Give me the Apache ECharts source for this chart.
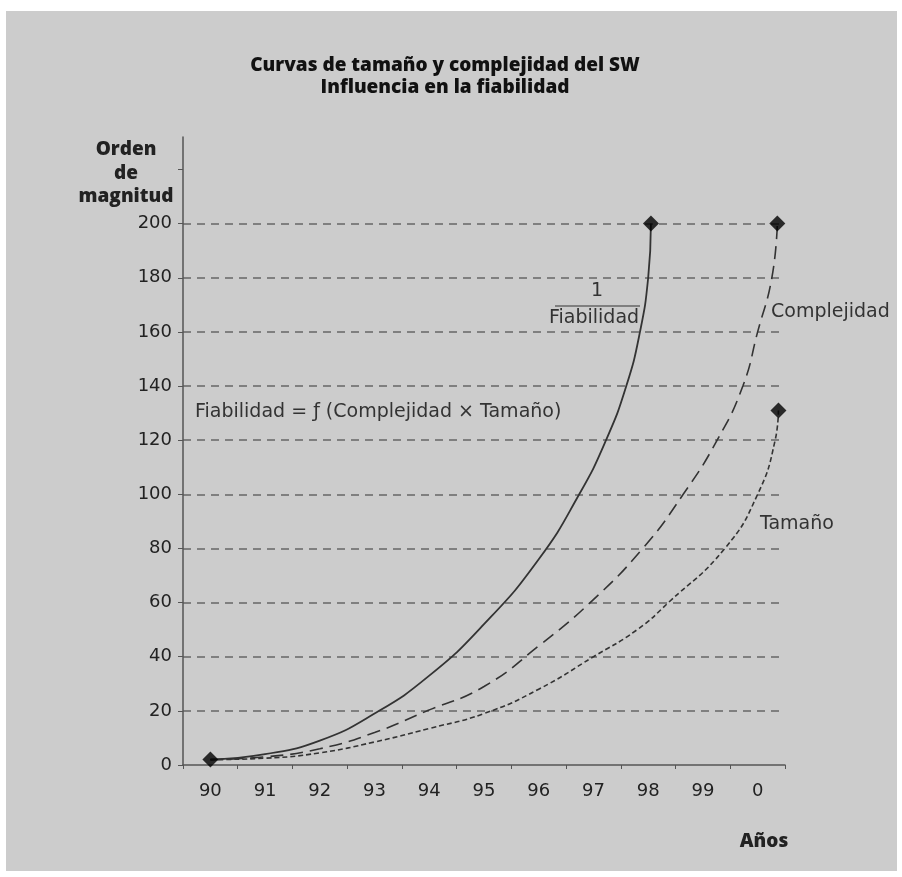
<!DOCTYPE html>
<html>
<head>
<meta charset="utf-8">
<script src="https://cdn.jsdelivr.net/npm/echarts@6.0.0/dist/echarts.min.js"></script>
<style>
  html, body { margin: 0; padding: 0; background: #fff; }
  #main { width: 902px; height: 877px; }
</style>
</head>
<body>
<div id="main"></div>
<script>
// etiquetas del eje X (años) y del eje Y
var anios = ['90', '91', '92', '93', '94', '95', '96', '97', '98', '99', '0'];
var yTicks = [0, 20, 40, 60, 80, 100, 120, 140, 160, 180, 200, 220];
var yEtiquetas = [0, 20, 40, 60, 80, 100, 120, 140, 160, 180, 200];

// curva 1/Fiabilidad (continua)
var fiabX = [90, 91, 92, 93, 94, 95, 96, 96.74, 97.23, 97.6, 97.85, 98, 98.05];
var fiabY = [2, 4, 9, 19, 33, 52, 76, 100, 120, 140, 160, 180, 200];

// curva Complejidad (trazo largo)
var complX = [90, 91, 92, 93, 93.96, 95, 96, 96.94, 97.9, 98.64, 99.26, 99.73, 100, 100.26, 100.36];
var complY = [2, 3, 6, 12, 20, 29, 44, 60, 80, 100, 120, 140, 160, 180, 200];

// curva Tamaño (trazo corto)
var tamX = [90, 91, 92, 93, 94, 95, 96, 97, 97.8, 98.37, 99.4, 100, 100.32, 100.38];
var tamY = [2, 2.5, 4.5, 8.5, 13.5, 19, 28, 40, 50, 60, 80, 100, 120, 131];

function pares(xs, ys) {
    return xs.map(function (x, i) { return [x, ys[i]]; });
}
function ultimo(xs, ys) {
    return [xs[xs.length - 1], ys[ys.length - 1]];
}

var chartDom = document.getElementById('main');
var myChart = echarts.init(chartDom);
var fuente = 'DejaVu Sans';
var fuenteTitulo = 'Open Sans';
var textoNota = '19px "DejaVu Sans"';
var option;

option = {
    backgroundColor: '#ffffff',
    animation: false,
    title: [
        {
            text: 'Curvas de tamaño y complejidad del SW\nInfluencia en la fiabilidad',
            left: 440,
            top: 50,
            textAlign: 'center',
            textStyle: { fontFamily: fuenteTitulo, fontWeight: 800, fontSize: 19, color: '#111', lineHeight: 22 }
        },
        {
            text: 'Orden\nde\nmagnitud',
            left: 121,
            top: 133,
            textAlign: 'center',
            textStyle: { fontFamily: fuenteTitulo, fontWeight: 800, fontSize: 19, color: '#222', lineHeight: 23.5 }
        },
        {
            text: 'Años',
            left: 759,
            top: 827,
            textAlign: 'center',
            textStyle: { fontFamily: fuenteTitulo, fontWeight: 800, fontSize: 19, color: '#222' }
        }
    ],
    graphic: [
        {
            type: 'rect', z: -10, silent: true,
            shape: { x: 6, y: 11, width: 891, height: 860 },
            style: { fill: '#cccccc' }
        },
        {
            type: 'text',
            style: { x: 195, y: 412, verticalAlign: 'middle', text: 'Fiabilidad = ƒ (Complejidad × Tamaño)', font: textoNota, fill: '#333' }
        },
        {
            type: 'text',
            style: { x: 597, y: 291, align: 'center', verticalAlign: 'middle', text: '1', font: textoNota, fill: '#333' }
        },
        {
            type: 'line',
            shape: { x1: 555, y1: 306, x2: 640, y2: 306 },
            style: { stroke: '#333', lineWidth: 1.2 }
        },
        {
            type: 'text',
            style: { x: 549, y: 318, verticalAlign: 'middle', text: 'Fiabilidad', font: textoNota, fill: '#333' }
        },
        {
            type: 'text',
            style: { x: 771, y: 312, verticalAlign: 'middle', text: 'Complejidad', font: textoNota, fill: '#333' }
        },
        {
            type: 'text',
            style: { x: 760, y: 524, verticalAlign: 'middle', text: 'Tamaño', font: textoNota, fill: '#333' }
        }
    ],
    grid: {
        left: 183,
        right: 117,
        top: 137,
        bottom: 112,
        containLabel: false
    },
    xAxis: [
        {
            type: 'category',
            data: anios,
            boundaryGap: true,
            axisLine: { lineStyle: { color: '#555', width: 1.5 } },
            axisTick: { show: true, length: 4, lineStyle: { color: '#555' } },
            axisLabel: { fontFamily: fuente, fontSize: 18, color: '#222', margin: 17 },
            splitLine: { show: false }
        },
        {
            type: 'value',
            min: 89.5,
            max: 100.5,
            show: false
        }
    ],
    yAxis: {
        type: 'value',
        min: 0,
        max: 232,
        interval: 20,
        axisLine: { show: true, lineStyle: { color: '#555', width: 1.5 } },
        axisTick: { show: true, length: 5, customValues: yTicks, lineStyle: { color: '#555' } },
        axisLabel: { fontFamily: fuente, fontSize: 18, color: '#222', margin: 11, customValues: yEtiquetas },
        splitLine: {
            show: true,
            showMinLine: false,
            showMaxLine: false,
            lineStyle: { color: '#666', width: 1.6, type: [8, 6] }
        }
    },
    series: [
        {
            name: '1/Fiabilidad',
            type: 'line',
            xAxisIndex: 1,
            data: pares(fiabX, fiabY),
            smooth: 0.5,
            symbol: 'none',
            lineStyle: { color: '#333', width: 1.8, type: 'solid' }
        },
        {
            name: 'Complejidad',
            type: 'line',
            xAxisIndex: 1,
            data: pares(complX, complY),
            smooth: 0.5,
            symbol: 'none',
            lineStyle: { color: '#333', width: 1.6, type: [13, 7] }
        },
        {
            name: 'Tamaño',
            type: 'line',
            xAxisIndex: 1,
            data: pares(tamX, tamY),
            smooth: 0.5,
            symbol: 'none',
            lineStyle: { color: '#333', width: 1.6, type: [5, 3] }
        },
        {
            name: 'puntos',
            type: 'scatter',
            xAxisIndex: 1,
            symbol: 'diamond',
            symbolSize: 16,
            itemStyle: { color: '#000' },
            z: 5,
            data: [
                [fiabX[0], fiabY[0]],
                ultimo(fiabX, fiabY),
                ultimo(complX, complY),
                ultimo(tamX, tamY)
            ]
        }
    ]
};

option && myChart.setOption(option);
</script>
</body>
</html>
